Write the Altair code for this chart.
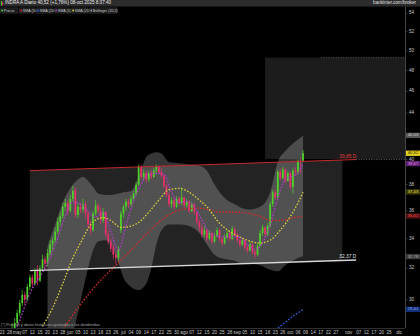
import altair as alt
import pandas as pd

# ---------------- data ----------------
opens = [27.0,27.3,27.6,27.5,27.9,28.3,28.6,29.2,29.8,30.3,
         30.0,30.8,31.4,31.0,31.9,31.2,32.0,32.6,32.3,33.0,
         33.6,33.9,34.5,35.2,35.6,36.3,36.6,36.0,36.9,37.6,
         35.7,36.3,36.1,36.5,35.8,35.0,34.6,35.8,36.4,36.0,
         35.3,35.9,34.3,33.8,33.4,32.9,32.7,34.6,35.8,36.3,
         36.7,36.5,36.9,37.3,38.0,39.4,38.6,38.9,38.4,38.9,
         38.6,39.1,39.4,39.0,38.7,37.9,37.2,36.5,36.8,36.3,
         36.9,36.6,37.0,36.4,36.7,36.0,36.5,35.9,35.2,34.8,
         34.3,34.6,34.0,34.4,33.8,34.2,34.6,34.0,33.7,34.1,
         34.4,34.0,34.7,34.3,33.9,33.6,33.9,33.4,33.2,33.6,
         33.1,32.9,33.5,34.4,34.8,34.3,34.9,36.5,37.4,37.0,
         39.0,38.5,39.2,38.3,38.9,37.8,39.1,39.0,39.9,39.9]
highs = [27.5,27.8,27.8,28.1,28.6,28.9,29.4,30.0,30.6,30.5,
         31.0,31.6,31.6,32.0,32.2,32.2,32.9,32.8,33.3,33.9,
         34.1,34.8,35.5,35.9,36.6,36.9,36.8,37.2,37.9,37.8,
         36.6,36.6,36.9,36.7,36.0,35.3,36.0,36.8,36.6,36.3,
         36.2,36.0,34.6,34.0,33.6,33.1,33.5,36.0,36.5,36.9,
         36.9,37.1,37.5,38.2,39.6,39.6,39.2,39.1,39.1,39.2,
         39.3,39.6,39.5,39.3,38.8,38.1,37.4,37.0,37.0,37.1,
         37.1,37.8,37.1,36.9,36.8,36.7,36.6,36.0,35.4,35.0,
         34.9,34.7,34.6,34.5,34.4,34.8,34.7,34.1,34.3,34.6,
         34.5,34.9,34.8,34.4,34.0,34.1,34.0,33.6,33.8,33.7,
         33.3,33.7,34.6,35.0,34.9,35.1,36.7,37.6,37.6,39.2,
         39.3,39.4,39.3,39.1,39.0,39.3,39.4,40.0,40.1,40.8]
lows = [26.8,27.1,27.2,27.4,27.8,28.1,28.5,29.0,29.6,29.7,
        29.9,30.6,30.8,30.9,30.9,31.1,31.8,32.0,32.1,32.8,
        33.2,33.7,34.3,34.9,35.4,36.0,35.7,35.9,36.7,35.5,
        35.5,35.8,35.9,35.5,34.8,34.3,34.5,35.6,35.8,35.0,
        35.1,34.1,33.6,33.1,32.6,32.3,32.5,34.4,35.5,36.0,
        36.2,36.3,36.7,37.1,37.9,38.4,38.3,38.1,38.2,38.4,
        38.5,38.8,38.8,38.5,37.7,37.0,36.3,36.2,36.1,36.2,
        36.4,36.4,36.2,36.2,35.8,35.9,35.7,35.0,34.5,34.1,
        34.1,33.8,33.9,33.6,33.7,34.1,33.8,33.5,33.6,34.0,
        33.8,33.9,34.1,33.7,33.4,33.5,33.2,33.0,33.1,32.9,
        32.7,32.8,33.4,34.2,34.1,34.2,34.8,36.3,36.8,36.9,
        38.3,38.4,38.1,38.2,37.6,37.3,38.7,38.8,38.9,39.8]
closes = [27.3,27.6,27.5,27.9,28.3,28.6,29.2,29.8,30.3,30.0,
          30.8,31.4,31.0,31.8,31.2,32.0,32.6,32.3,33.0,33.6,
          33.9,34.5,35.2,35.6,36.3,36.6,36.0,36.9,37.5,35.7,
          36.3,36.1,36.5,35.8,35.0,34.6,35.8,36.4,36.0,35.3,
          35.9,34.3,33.8,33.3,32.9,32.7,33.2,35.8,36.3,36.7,
          36.5,36.9,37.3,38.0,39.4,38.6,38.9,38.4,38.9,38.6,
          39.1,39.4,39.0,38.7,37.9,37.2,36.5,36.8,36.3,36.9,
          36.6,37.0,36.4,36.7,36.0,36.5,35.9,35.2,34.8,34.3,
          34.6,34.0,34.4,33.8,34.2,34.6,34.0,33.7,34.1,34.4,
          34.0,34.7,34.3,33.9,33.6,33.9,33.4,33.2,33.6,33.1,
          32.9,33.5,34.4,34.8,34.3,34.9,36.5,37.4,37.0,39.0,
          38.5,39.2,38.3,38.9,37.8,39.1,39.0,39.9,39.82,40.52]
day_idx = list(range(len(closes)))

sma5_idx = list(range(4, 116, 3)) + [117, 119]
sma5 = [27.7,28.76,30.02,31.0,31.72,32.7,34.04,35.64,36.66,36.5,
        35.94,35.52,35.88,34.52,33.18,34.94,36.74,38.04,38.84,38.88,
        38.82,37.42,36.62,36.72,36.3,35.34,34.42,34.2,34.12,34.18,
        34.1,33.6,33.24,33.74,34.98,36.96,38.4,38.66,38.94,39.67]

sma20_idx = [16,20,24,28,31,36,40,43,47,51,55,58,62,66,70,74,78,81,86,91,97,102,106,110,115,119]
sma20 = [28.4,29.5,31.0,32.7,33.7,35.2,35.5,35.3,34.8,34.9,35.3,35.9,36.8,37.6,37.7,
         37.4,36.8,36.3,35.1,34.4,33.9,33.7,33.9,34.6,35.9,37.4]

sma50_idx = [22,24,29,34,40,45,52,58,65,71,77,82,86,90,94,98,102,106,110,115,119]
sma50 = [27.8,28.2,29.3,30.3,31.4,32.2,33.4,34.5,35.6,36.1,36.2,36.1,35.9,35.9,35.9,
         35.8,35.6,35.3,35.3,35.5,35.6]

sma200_idx = [106,109,112,115,119]
sma200 = [28.0,28.3,28.65,29.0,29.4]

bb_idx = [18,21,24,26,28,30,32,34,36,38,41,43,46,48,51,54,57,59,61,63,66,70,74,78,81,
          84,86,89,92,95,98,102,106,109,112,116,119]
bb_upper = [33.5,35.0,36.6,37.4,38.0,38.4,38.6,38.3,37.8,37.3,
            37.2,37.2,37.3,37.4,37.5,38.6,40.2,40.5,40.6,40.5,
            39.8,39.7,39.6,39.5,39.1,38.0,37.4,36.8,36.5,36.2,
            36.1,36.3,37.4,39.8,40.7,41.5,42.0]
bb_lower = [27.0,26.8,26.8,27.2,28.0,29.2,30.6,32.0,33.2,33.8,
            33.9,33.6,32.4,31.4,30.8,30.6,31.0,32.0,33.6,34.6,
            35.0,35.0,34.9,34.4,33.6,32.9,32.7,32.6,32.5,32.3,
            32.3,32.2,31.9,31.8,32.2,32.6,32.8]

chan_idx = [11, 140]
chan_upper = [39.1, 40.0]
chan_lower = [31.85, 32.55]
fill_idx = [11, 134.5]
fill_upper = [39.1, 39.96]
fill_lower = [31.85, 32.52]
chan_labels = ["39,85 D", "32,37 D"]
ext_idx = [140, 159.3]

box_idx = [104, 159.3]
box_top_idx = 126
box_vals = [40.05, 49.3]

tick_idx = [0,3,6,9,12,15,18,21,24,27,30,33,36,39,42,45,48,51,54,57,
            60,63,66,69,72,75,78,81,84,87,90,93,96,99,102,105,108,111,114,117,
            120,123,126,129,132,137,141,144,147,150,153,157]
tick_labels = ["23","28","may","07","12","15","20","23","28","jun",
               "05","10","13","18","23","26","jul","04","09","14",
               "17","22","25","30","ago","07","12","15","20","25",
               "28","sep","05","10","15","18","23","26","oct","06",
               "09","14","17","22","27","nov","07","12","17","20",
               "25","dic"]
y_ticks = [30,32,34,36,38,40,44,46,48,50,52,54]

badge_vals = [42.03, 40.52, 39.67, 37.43, 35.62, 32.78, 29.41]
badge_labels = ["42,03", "40,52", "39,67", "37,43", "35,62", "32,78", "29,41"]

title_text = "INDRA A Diario 40,52 (+1,76%) 08-oct 2025 8:37:40"
brand_text = "bankinter.com/broker"
legend_names = ["Precio", "SMA (50)", "SMA (200)", "SMA (5)", "SMA (20)", "Bollinger (20,2)"]
note_text = "(*) Precios y datos históricos ajustados a los dividendos"

# ---------------- styles ----------------
FONT = "Liberation Sans"
G, R = "#4fd12b", "#e8306b"
C_SMA5, C_SMA20, C_SMA50, C_SMA200 = "#b03cc8", "#d8cf3c", "#d62a2a", "#2f62e8"
X_DOM = [-0.8, 159.3]
Y_DOM = [28.31, 54.7]
W, H = 405, 321

def xe(field):
    return alt.X(field, type="quantitative",
                 scale=alt.Scale(domain=X_DOM, nice=False, zero=False), axis=None)

def ye(field):
    return alt.Y(field, type="quantitative",
                 scale=alt.Scale(type="log", domain=Y_DOM, nice=False), axis=None)

layers = []

# future projection box
box_df = pd.DataFrame({"x0": [box_idx[0]], "x1": [box_idx[1]], "y0": [box_vals[0]], "y1": [box_vals[1]]})
layers.append(alt.Chart(box_df).mark_rect(color="#1c1c1c", clip=True).encode(
    x=xe("x0"), x2="x1", y=ye("y0"), y2="y1"))
top_df = pd.DataFrame({"x0": [box_top_idx], "x1": [box_idx[1]], "v": [box_vals[1]]})
layers.append(alt.Chart(top_df).mark_rule(color="#777777", strokeDash=[1, 1.5], strokeWidth=0.8, clip=True).encode(
    x=xe("x0"), x2="x1", y=ye("v")))

# channel fill
fill_df = pd.DataFrame({"i": fill_idx, "u": fill_upper, "lo": fill_lower})
layers.append(alt.Chart(fill_df).mark_area(color="#232323", clip=True).encode(
    x=xe("i"), y=ye("u"), y2="lo"))

# Bollinger band
bb_df = pd.DataFrame({"i": bb_idx, "u": bb_upper, "lo": bb_lower})
layers.append(alt.Chart(bb_df).mark_area(color="#ffffff", opacity=0.21, interpolate="monotone", clip=True).encode(
    x=xe("i"), y=ye("u"), y2="lo"))

# candles
cdf = pd.DataFrame({"i": day_idx, "o": opens, "h": highs, "l": lows, "c": closes})
col = alt.condition(alt.datum.c >= alt.datum.o, alt.value(G), alt.value(R))
layers.append(alt.Chart(cdf).mark_rule(strokeWidth=0.7, clip=True).encode(
    x=xe("i"), y=ye("l"), y2="h", color=col))
layers.append(alt.Chart(cdf).transform_calculate(x0="datum.i - 0.34", x1="datum.i + 0.34")
              .mark_rect(clip=True).encode(x=xe("x0"), x2="x1", y=ye("o"), y2="c", color=col))

# moving averages
def sma_line(ix, vals, color):
    d = pd.DataFrame({"i": ix, "v": vals})
    return alt.Chart(d).mark_line(color=color, strokeWidth=1.3, strokeDash=[1.6, 1.6],
                                  interpolate="monotone", clip=True).encode(x=xe("i"), y=ye("v"))

layers.append(sma_line(sma200_idx, sma200, C_SMA200))
layers.append(sma_line(sma50_idx, sma50, C_SMA50))
layers.append(sma_line(sma20_idx, sma20, C_SMA20))
layers.append(sma_line(sma5_idx, sma5, C_SMA5))

# channel lines
up_df = pd.DataFrame({"i": chan_idx, "v": chan_upper})
lo_df = pd.DataFrame({"i": chan_idx, "v": chan_lower})
layers.append(alt.Chart(up_df).mark_line(color="#c42a2f", strokeWidth=1.0, clip=True).encode(x=xe("i"), y=ye("v")))
layers.append(alt.Chart(lo_df).mark_line(color="#d8d8d8", strokeWidth=1.4, clip=True).encode(x=xe("i"), y=ye("v")))
ext_df = pd.DataFrame({"x0": [ext_idx[0]], "x1": [ext_idx[1]], "v": [chan_upper[1]]})
layers.append(alt.Chart(ext_df).mark_rule(color="#777777", strokeDash=[1, 1.5], strokeWidth=0.8, clip=True).encode(
    x=xe("x0"), x2="x1", y=ye("v")))
lab_df = pd.DataFrame({"i": [chan_idx[1]] * 2, "v": [chan_upper[1], chan_lower[1]],
                       "t": chan_labels, "k": ["u", "l"]})
layers.append(alt.Chart(lab_df).transform_filter(alt.datum.k == "u").mark_text(
    align="right", baseline="bottom", dy=-0.5, fontSize=4.8, font=FONT, color="#e03a3a").encode(
    x=xe("i"), y=ye("v"), text="t:N"))
layers.append(alt.Chart(lab_df).transform_filter(alt.datum.k == "l").mark_text(
    align="right", baseline="bottom", dy=-0.8, fontSize=4.8, font=FONT, color="#e6e6e6").encode(
    x=xe("i"), y=ye("v"), text="t:N"))

# ---- hand-built axes (right price axis, bottom date axis) ----
axis_one = pd.DataFrame({"t": ["axis"]})
layers.append(alt.Chart(axis_one).mark_rule(color="#555555", strokeWidth=0.8).encode(
    x=alt.value(W + 0.5), y=alt.value(-1), y2=alt.value(H)))
layers.append(alt.Chart(axis_one).mark_rule(color="#3c3c3c", strokeWidth=0.8).encode(
    x=alt.value(0), x2=alt.value(W), y=alt.value(H + 0.5)))
yt_df = pd.DataFrame({"v": y_ticks})
layers.append(alt.Chart(yt_df).mark_rule(color="#555555", strokeWidth=0.6).encode(
    x=alt.value(W), x2=alt.value(W + 2.5), y=ye("v")))
layers.append(alt.Chart(yt_df).transform_calculate(t="format(datum.v, 'd')").mark_text(
    align="left", baseline="middle", fontSize=4.6, font=FONT, color="#c8c8c8").encode(
    x=alt.value(W + 4), y=ye("v"), text="t:N"))
xt_df = pd.DataFrame({"i": tick_idx, "t": tick_labels})
layers.append(alt.Chart(xt_df).mark_text(
    align="center", baseline="middle", fontSize=4.6, font=FONT, color="#c8c8c8").encode(
    x=xe("i"), y=alt.value(H + 4.8), text="t:N"))

# right-axis value badges
badge_bg = ["#555555", "#e6d11e", "#5e2170", "#3d3a0c", "#4e1010", "#3a3a3a", "#123078"]
badge_fg = ["#dddddd", "#000000", "#e890f5", "#ece23e", "#ff5050", "#b8b8b8", "#8fb0ff"]
shape = "M-1,-0.38L1,-0.38L1,0.38L-1,0.38Z"
for k in range(len(badge_vals)):
    bd = pd.DataFrame({"v": [badge_vals[k]], "t": [badge_labels[k]]})
    layers.append(alt.Chart(bd).mark_point(shape=shape, size=196, filled=True, opacity=1,
                                           color=badge_bg[k]).encode(x=alt.value(413), y=ye("v")))
    layers.append(alt.Chart(bd).mark_text(fontSize=4.2, font=FONT, color=badge_fg[k],
                                          align="center", baseline="middle").encode(
        x=alt.value(413), y=ye("v"), text="t:N"))

# header bar
one = pd.DataFrame({"t": [title_text]})
layers.append(alt.Chart(one).mark_rect(color="#2c2c2c").encode(
    x=alt.value(0), x2=alt.value(420), y=alt.value(-7), y2=alt.value(-0.5)))
layers.append(alt.Chart(one).mark_rect(color=G).encode(
    x=alt.value(1), x2=alt.value(2), y=alt.value(-6), y2=alt.value(-1.5)))
layers.append(alt.Chart(one).mark_rect(color=R).encode(
    x=alt.value(2.3), x2=alt.value(3.3), y=alt.value(-5), y2=alt.value(-2)))
layers.append(alt.Chart(one).mark_text(align="left", baseline="middle", fontSize=4.6, font=FONT,
                                       color="#eeeeee").encode(
    x=alt.value(5), y=alt.value(-3.6), text="t:N"))
brand = pd.DataFrame({"t": [brand_text]})
layers.append(alt.Chart(brand).mark_text(align="right", baseline="middle", fontSize=4.6, font=FONT,
                                         color="#e0e0e0").encode(
    x=alt.value(416), y=alt.value(-3.6), text="t:N"))

# legend row
leg_colors = [G, C_SMA50, C_SMA200, C_SMA5, C_SMA20, "#9a9a9a"]
box_x = [0, 19, 36, 54, 71, 89, 118]
for k, name in enumerate(legend_names):
    ld = pd.DataFrame({"t": [name]})
    x0 = box_x[k]
    x1 = box_x[k + 1] - 1
    layers.append(alt.Chart(ld).mark_rect(color="#1b1b1b", stroke="#3a3a3a", strokeWidth=0.5).encode(
        x=alt.value(x0 + 0.5), x2=alt.value(x1), y=alt.value(0.8), y2=alt.value(6.2)))
    layers.append(alt.Chart(ld).mark_rect(color=leg_colors[k]).encode(
        x=alt.value(x0 + 1.3), x2=alt.value(x0 + 3.1), y=alt.value(2.6), y2=alt.value(4.4)))
    layers.append(alt.Chart(ld).mark_text(align="left", baseline="middle", fontSize=3.7, font=FONT,
                                          color="#d0d0d0").encode(
        x=alt.value(x0 + 3.8), y=alt.value(3.6), text="t:N"))

# footnote
nd = pd.DataFrame({"t": [note_text]})
layers.append(alt.Chart(nd).mark_text(align="left", baseline="middle", fontSize=4.0, font=FONT,
                                      color="#a8a8a8").encode(
    x=alt.value(1), y=alt.value(H - 3), text="t:N"))

chart = alt.layer(*layers).properties(
    width=W, height=H,
    padding={"left": 0, "top": 7, "right": 15, "bottom": 8},
    autosize=alt.AutoSizeParams(type="none"),
).configure(background="#000000").configure_view(stroke=None)

chart.save("out.html", embed_options={"renderer": "svg", "actions": False})
